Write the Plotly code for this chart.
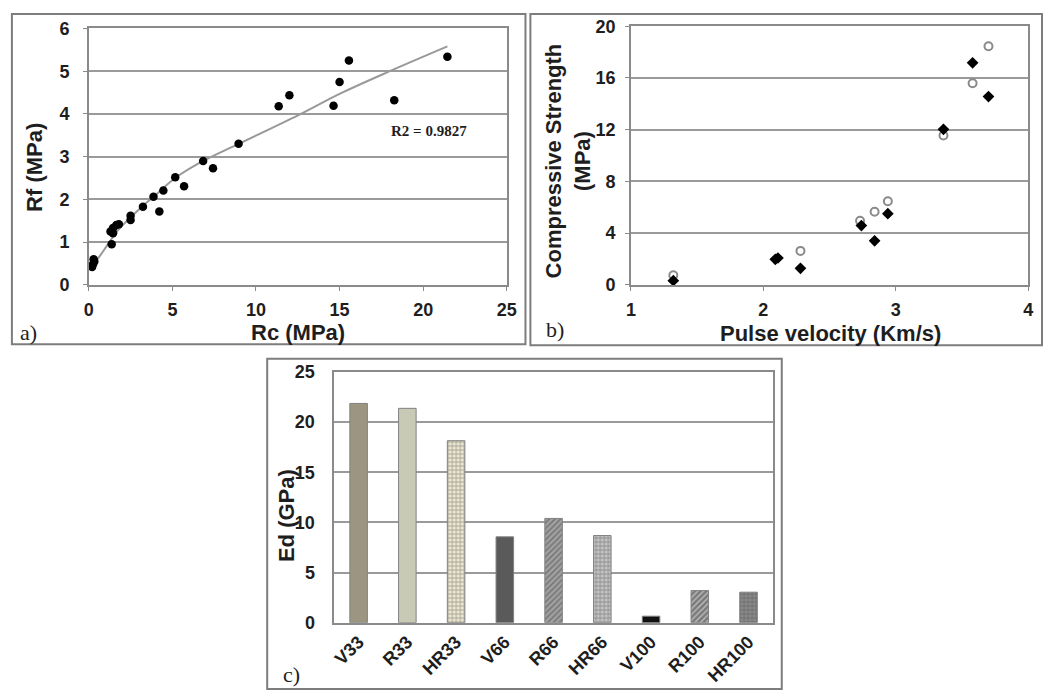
import plotly.graph_objects as go

W, H = 1053, 700

# ---------- Panel a data ----------
rc = [0.26, 0.29, 0.20, 0.33, 1.37, 1.30, 1.45, 1.45, 1.65, 1.80, 2.50, 2.50, 3.24, 3.87,
      4.22, 4.46, 5.17, 5.70, 6.84, 7.43, 8.96, 11.36, 12.0, 14.64, 15.0, 15.56, 18.27, 21.45]
rf = [0.49, 0.60, 0.42, 0.55, 0.95, 1.25, 1.33, 1.21, 1.40, 1.42, 1.52, 1.62, 1.83, 2.06,
      1.72, 2.21, 2.52, 2.31, 2.90, 2.73, 3.30, 4.18, 4.44, 4.19, 4.75, 5.25, 4.32, 5.34]
trend_x = [0.2, 0.88, 1.77, 3.24, 3.87, 5.17, 6.84, 8.96, 12.57, 15.0, 18.0, 21.45]
trend_y = [0.42, 0.80, 1.29, 1.85, 2.06, 2.50, 2.90, 3.30, 3.98, 4.47, 5.00, 5.58]

# ---------- Panel b data ----------
pv_filled = [1.32, 2.09, 2.11, 2.28, 2.74, 2.84, 2.94, 3.36, 3.58, 3.70]
cs_filled = [0.33, 1.98, 2.08, 1.28, 4.59, 3.41, 5.51, 12.03, 17.17, 14.56]
pv_open = [1.32, 2.28, 2.73, 2.84, 2.94, 3.36, 3.58, 3.70]
cs_open = [0.75, 2.63, 4.96, 5.66, 6.47, 11.55, 15.59, 18.45]

# ---------- Panel c data ----------
mixes = ["V33", "R33", "HR33", "V66", "R66", "HR66", "V100", "R100", "HR100"]
ed = [21.87, 21.38, 18.15, 8.56, 10.4, 8.69, 0.65, 3.2, 3.04]
bar_colors = ["#9c9681", "#c9cab5", "#ece8d2", "#5a5a5a", "#a0a0a0", "#c4c4c4", "#111111", "#7a7a7a", "#8a8a8a"]
bar_shapes = ["", "", "+", "", "/", "+", "", "/", "+"]
bar_fg = ["#9c9681", "#c9cab5", "#a8a286", "#5a5a5a", "#7a7a7a", "#7e7e7e", "#111111", "#4a4a4a", "#4a4a4a"]

GRID = "#9a9a9a"
AX = "#8a8a8a"
TXT = "#1e1e1e"
SANS = "Liberation Sans"
SERIF = "Liberation Serif"


def px_x(p):
    return p / W


def px_y(p):
    return 1 - p / H


fig = go.Figure()

# panel a
fig.add_trace(go.Scatter(x=trend_x, y=trend_y, mode="lines", line=dict(color="#999999", width=2, shape="spline"),
                         xaxis="x", yaxis="y", showlegend=False, hoverinfo="skip"))
fig.add_trace(go.Scatter(x=rc, y=rf, mode="markers", marker=dict(color="black", size=8.5),
                         xaxis="x", yaxis="y", showlegend=False))

# panel b
fig.add_trace(go.Scatter(x=pv_open, y=cs_open, mode="markers",
                         marker=dict(symbol="circle-open", color="#8a8a8a", size=8, line=dict(width=2, color="#8a8a8a")),
                         xaxis="x2", yaxis="y2", showlegend=False))
fig.add_trace(go.Scatter(x=pv_filled, y=cs_filled, mode="markers",
                         marker=dict(symbol="diamond", color="black", size=9),
                         xaxis="x2", yaxis="y2", showlegend=False))

# panel c
fig.add_trace(go.Bar(x=mixes, y=ed, width=0.36,
                     marker=dict(color=bar_colors, line=dict(color="#808080", width=1),
                                 pattern=dict(shape=bar_shapes, fgcolor=bar_fg, size=4, solidity=0.35,
                                              fillmode="overlay")),
                     xaxis="x3", yaxis="y3", showlegend=False))

tickfont = dict(family=SANS, size=18, color=TXT, weight="bold")
common = dict(showline=True, linecolor=AX, linewidth=1.5, mirror=True, tickfont=tickfont,
              zeroline=False, ticks="outside", tickcolor=AX, ticklen=4)

fig.update_layout(
    width=W, height=H, margin=dict(l=0, r=0, t=0, b=0),
    paper_bgcolor="white", plot_bgcolor="white",
    xaxis=dict(domain=[px_x(85), px_x(509)], range=[0, 25], dtick=5, showgrid=False, anchor="y",
               ticklabelstandoff=4, **common),
    yaxis=dict(domain=[px_y(283), px_y(19)], range=[0, 6], dtick=1, showgrid=True, gridcolor=GRID,
               gridwidth=1.5, anchor="x", ticklabelstandoff=10, **common),
    xaxis2=dict(domain=[px_x(635), px_x(1038)], range=[1, 4], dtick=1, showgrid=False, anchor="y2",
                ticklabelstandoff=4, **common),
    yaxis2=dict(domain=[px_y(283), px_y(16.7)], range=[0, 20], dtick=4, showgrid=True, gridcolor=GRID,
                gridwidth=1.5, anchor="x2", ticklabelstandoff=6, **common),
    xaxis3=dict(domain=[px_x(334), px_x(779)], showgrid=False, anchor="y3", tickangle=-45,
                showline=True, linecolor=AX, linewidth=1.5, mirror=True, tickfont=tickfont, ticks=""),
    yaxis3=dict(domain=[px_y(630.7), px_y(372.7)], range=[0, 25], dtick=5, showgrid=True, gridcolor=GRID,
                gridwidth=1.5, anchor="x3", showline=True, linecolor=AX, linewidth=1.5, mirror=True,
                tickfont=tickfont, ticks="", zeroline=False, ticklabelstandoff=14),
)

# panel boxes
for (x0, y0, x1, y1) in [(7, 4, 528, 344), (533, 4, 1052, 345), (266, 359, 788, 699)]:
    fig.add_shape(type="rect", xref="paper", yref="paper", x0=px_x(x0), x1=px_x(x1), y0=px_y(y1), y1=px_y(y0),
                  line=dict(color="#7d7d7d", width=2), fillcolor="rgba(0,0,0,0)", layer="below")

titlefont = dict(family=SANS, size=22, color=TXT, weight="bold")


def ann(text, x, y, font, angle=0):
    fig.add_annotation(text=text, x=px_x(x), y=px_y(y), xref="paper", yref="paper", showarrow=False,
                       xanchor="center", yanchor="middle", textangle=angle, font=font)


ann("Rc (MPa)", 297, 332, titlefont)
ann("Rf (MPa)", 30, 162, titlefont, -90)
ann("Compressive Strength<br>(MPa)", 571, 155, titlefont, -90)
ann("Pulse velocity (Km/s)", 837, 333, titlefont)
ann("Ed (GPa)", 285, 520, titlefont, -90)
ann("R2 = 0.9827", 430, 125, dict(family=SERIF, size=15, color=TXT, weight="bold"))
labfont = dict(family=SERIF, size=22, color=TXT)
ann("a)", 24, 332, labfont)
ann("b)", 558, 329, labfont)
ann("c)", 291, 684, labfont)

fig.write_html("out.html", config={"displayModeBar": False},
               post_script="document.body.style.margin='0';document.body.style.overflow='hidden';")
